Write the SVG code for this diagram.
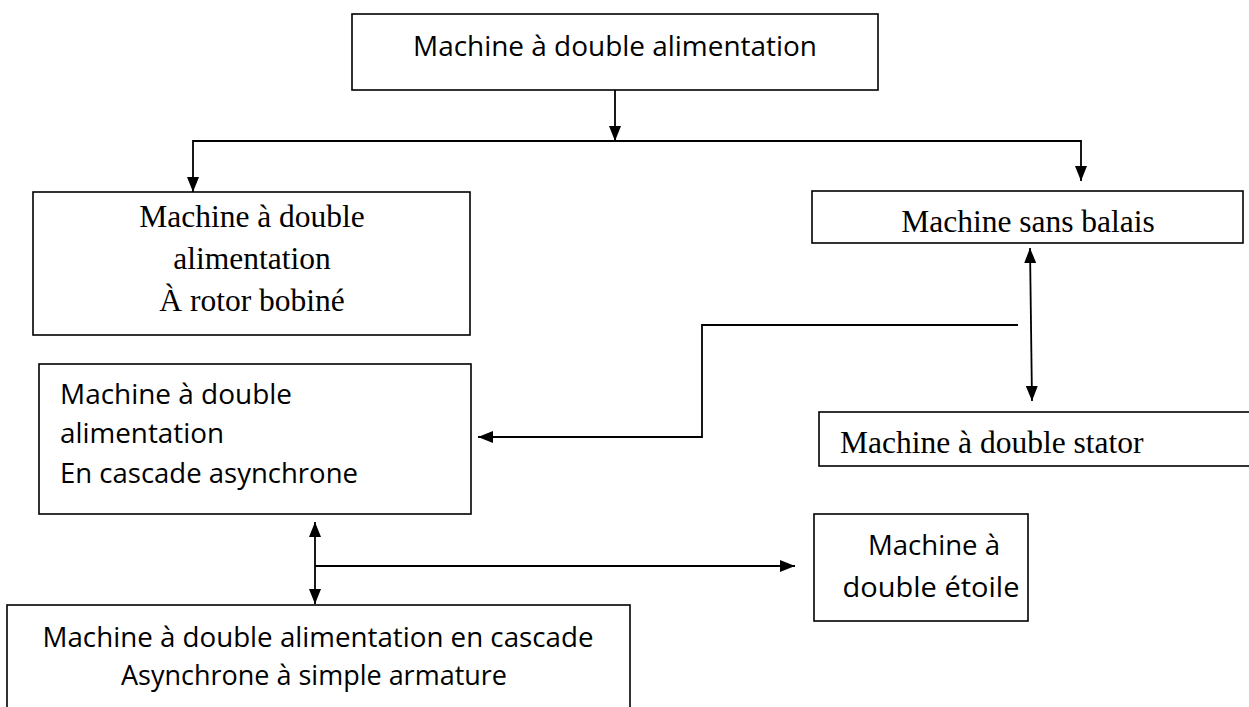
<svg xmlns="http://www.w3.org/2000/svg" width="1249" height="707" viewBox="0 0 1249 707">
<style>
.box{fill:#fff;stroke:#000;stroke-width:1.6}
.ln{fill:none;stroke:#000;stroke-width:1.8}
.serif{font-family:"Liberation Serif","Times New Roman",serif;font-size:31.5px;fill:#000}
.sans{font-family:"Open Sans","Noto Sans",sans-serif;font-size:28px;fill:#000}
</style>
<defs>
<marker id="ah" viewBox="0 0 15 12" refX="15" refY="6" markerWidth="15" markerHeight="12" markerUnits="userSpaceOnUse" orient="auto-start-reverse">
<path d="M0,0 L15,6 L0,12 z" fill="#000"/>
</marker>
</defs>
<rect width="1249" height="707" fill="#fff"/>
<g id="connectors">
<line class="ln" x1="615" y1="90" x2="615" y2="141" marker-end="url(#ah)"/>
<polyline class="ln" points="615,141 193,141 193,192" marker-end="url(#ah)"/>
<polyline class="ln" points="615,141 1081,141 1081,181" marker-end="url(#ah)"/>
<line class="ln" x1="1030" y1="248" x2="1032" y2="401" marker-start="url(#ah)" marker-end="url(#ah)"/>
<polyline class="ln" points="1018,325 702,325 702,437 478,437" marker-end="url(#ah)"/>
<line class="ln" x1="315" y1="522" x2="315" y2="604" marker-start="url(#ah)" marker-end="url(#ah)"/>
<line class="ln" x1="315" y1="566" x2="795" y2="566" marker-end="url(#ah)"/>
</g>
<g id="n-top">
<rect class="box" x="352" y="14" width="526" height="76"/>
<text class="sans" x="413" y="56" textLength="404" lengthAdjust="spacingAndGlyphs">Machine à double alimentation</text>
</g>
<g id="n-rotor">
<rect class="box" x="33" y="192" width="437" height="143"/>
<text class="serif" x="252" y="227" text-anchor="middle">Machine à double</text>
<text class="serif" x="252" y="269" text-anchor="middle">alimentation</text>
<text class="serif" x="252" y="311" text-anchor="middle">À rotor bobiné</text>
</g>
<g id="n-balais">
<rect class="box" x="812" y="191" width="431" height="52"/>
<text class="serif" x="1028" y="232" text-anchor="middle">Machine sans balais</text>
</g>
<g id="n-cascade">
<rect class="box" x="39" y="364" width="432" height="150"/>
<text class="sans" x="60" y="404" textLength="232" lengthAdjust="spacingAndGlyphs">Machine à double</text>
<text class="sans" x="60" y="443" textLength="164" lengthAdjust="spacingAndGlyphs">alimentation</text>
<text class="sans" x="60" y="483" textLength="298" lengthAdjust="spacingAndGlyphs">En cascade asynchrone</text>
</g>
<g id="n-stator">
<rect class="box" x="819" y="412" width="450" height="54"/>
<text class="serif" x="840" y="453">Machine à double stator</text>
</g>
<g id="n-etoile">
<rect class="box" x="814" y="514" width="214" height="107"/>
<text class="sans" x="934" y="555" text-anchor="middle" textLength="132" lengthAdjust="spacingAndGlyphs">Machine à</text>
<text class="sans" x="931" y="597" text-anchor="middle" textLength="177" lengthAdjust="spacingAndGlyphs">double étoile</text>
</g>
<g id="n-simple">
<rect class="box" x="7" y="605" width="623" height="120"/>
<text class="sans" x="318" y="647" text-anchor="middle" textLength="551" lengthAdjust="spacingAndGlyphs">Machine à double alimentation en cascade</text>
<text class="sans" x="314" y="685" text-anchor="middle" textLength="386" lengthAdjust="spacingAndGlyphs">Asynchrone à simple armature</text>
</g>
</svg>
